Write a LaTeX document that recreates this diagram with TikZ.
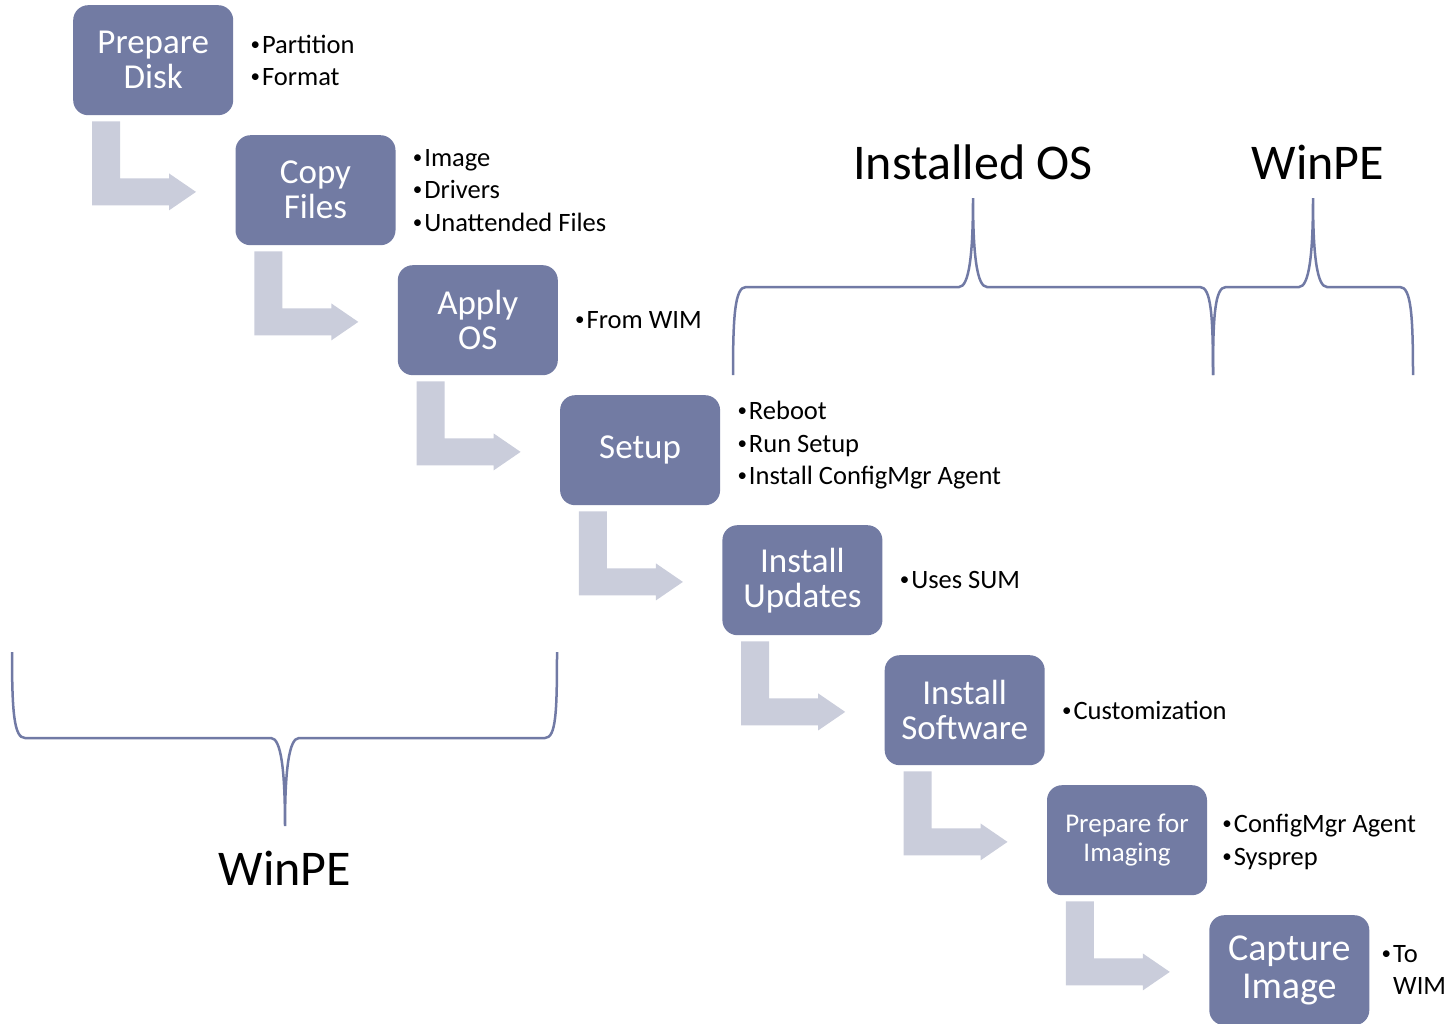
\documentclass[tikz,border=0pt]{standalone}
\usepackage{fontspec}
\setmainfont{Carlito}
\definecolor{boxc}{RGB}{114,123,163}
\definecolor{arrc}{RGB}{202,205,219}
\definecolor{brc}{RGB}{113,122,165}
\newcommand\bl{\raisebox{3pt}{\fontsize{19}{19}\selectfont•}\hspace{2pt}}
\tikzset{
  stepbox/.style={fill=boxc, rounded corners=15pt, minimum width=160pt, minimum height=110pt,
    text=white, align=center, font=\fontsize{35}{35}\selectfont, inner sep=0pt, anchor=north west},
  bul/.style={anchor=west, align=left, font=\fontsize{26.5}{32.5}\selectfont, inner sep=0pt},
  bracep/.style={draw=brc, line width=2.5pt},
  ttl/.style={font=\fontsize{50}{55}\selectfont, inner sep=0pt}
}
\newcommand\elbow[1]{%
  \begin{scope}[shift={(#1.south west)}]
    \fill[arrc] (19,6) -- (47,6) -- (47,63) -- (96,63) -- (96,58) -- (123,76.5) -- (96,95) -- (96,90) -- (19,90) -- cycle;
  \end{scope}}
\begin{document}
\begin{tikzpicture}[x=1pt,y=-1pt]
\useasboundingbox (0,0) rectangle (1451,1023);
\clip (0,0) rectangle (1451,1023);
% boxes
\node[stepbox] (b1) at (73,5) {Prepare\\Disk};
\node[stepbox] (b2) at (235.3,135) {Copy\\Files};
\node[stepbox] (b3) at (397.6,265) {Apply\\OS};
\node[stepbox] (b4) at (559.9,395) {Setup};
\node[stepbox] (b5) at (722.2,525) {Install\\Updates};
\node[stepbox] (b6) at (884.5,655) {Install\\Software};
\node[stepbox, font=\fontsize{27}{29}\selectfont] (b7) at (1046.8,785) {Prepare for\\Imaging};
\node[stepbox, font=\fontsize{38}{38}\selectfont] (b8) at (1209.1,915) {Capture\\Image};
% elbow arrows
\elbow{b1}\elbow{b2}\elbow{b3}\elbow{b4}\elbow{b5}\elbow{b6}\elbow{b7}
% bullets
\node[bul] (t1) at ([xshift=17pt]b1.east) {\bl Partition\\\bl Format};
\node[bul] (t2) at ([xshift=17pt]b2.east) {\bl Image\\\bl Drivers\\\bl Unattended Files};
\node[bul] (t3) at ([xshift=17pt]b3.east) {\bl From WIM};
\node[bul] (t4) at ([xshift=17pt,yshift=5pt]b4.east) {\bl Reboot\\\bl Run Setup\\\bl Install ConfigMgr Agent};
\node[bul] (t5) at ([xshift=17pt]b5.east) {\bl Uses SUM};
\node[bul] (t6) at ([xshift=17pt]b6.east) {\bl Customization};
\node[bul] (t7) at ([xshift=15pt,yshift=-2pt]b7.east) {\bl ConfigMgr Agent\\\bl Sysprep};
\node[bul] (t8) at ([xshift=12pt]b8.east) {\bl To\\\hphantom{\bl}WIM};
% braces
\draw[bracep] (733,375) .. controls (733,315) and (735,287) .. (746,287) -- (959,287)
  .. controls (969,287) and (973,255) .. (973,198)
  .. controls (973,255) and (977,287) .. (987,287) -- (1200,287)
  .. controls (1211,287) and (1213,315) .. (1213,375);
\draw[bracep] (1213,375) .. controls (1213,315) and (1215,287) .. (1226,287) -- (1299,287)
  .. controls (1309,287) and (1313,255) .. (1313,198)
  .. controls (1313,255) and (1317,287) .. (1327,287) -- (1400,287)
  .. controls (1411,287) and (1413,315) .. (1413,375);
\draw[bracep] (12,652) .. controls (12,712) and (14,738) .. (25,738) -- (271,738)
  .. controls (281,738) and (285,770) .. (285,826)
  .. controls (285,770) and (289,738) .. (299,738) -- (545,738)
  .. controls (556,738) and (557,712) .. (557,652);
\node[ttl] (os) at (973,162) {Installed OS};
\node[ttl] (pe1) at (1318,162) {WinPE};
\node[ttl] (pe2) at (285,868) {WinPE};
\end{tikzpicture}
\end{document}
